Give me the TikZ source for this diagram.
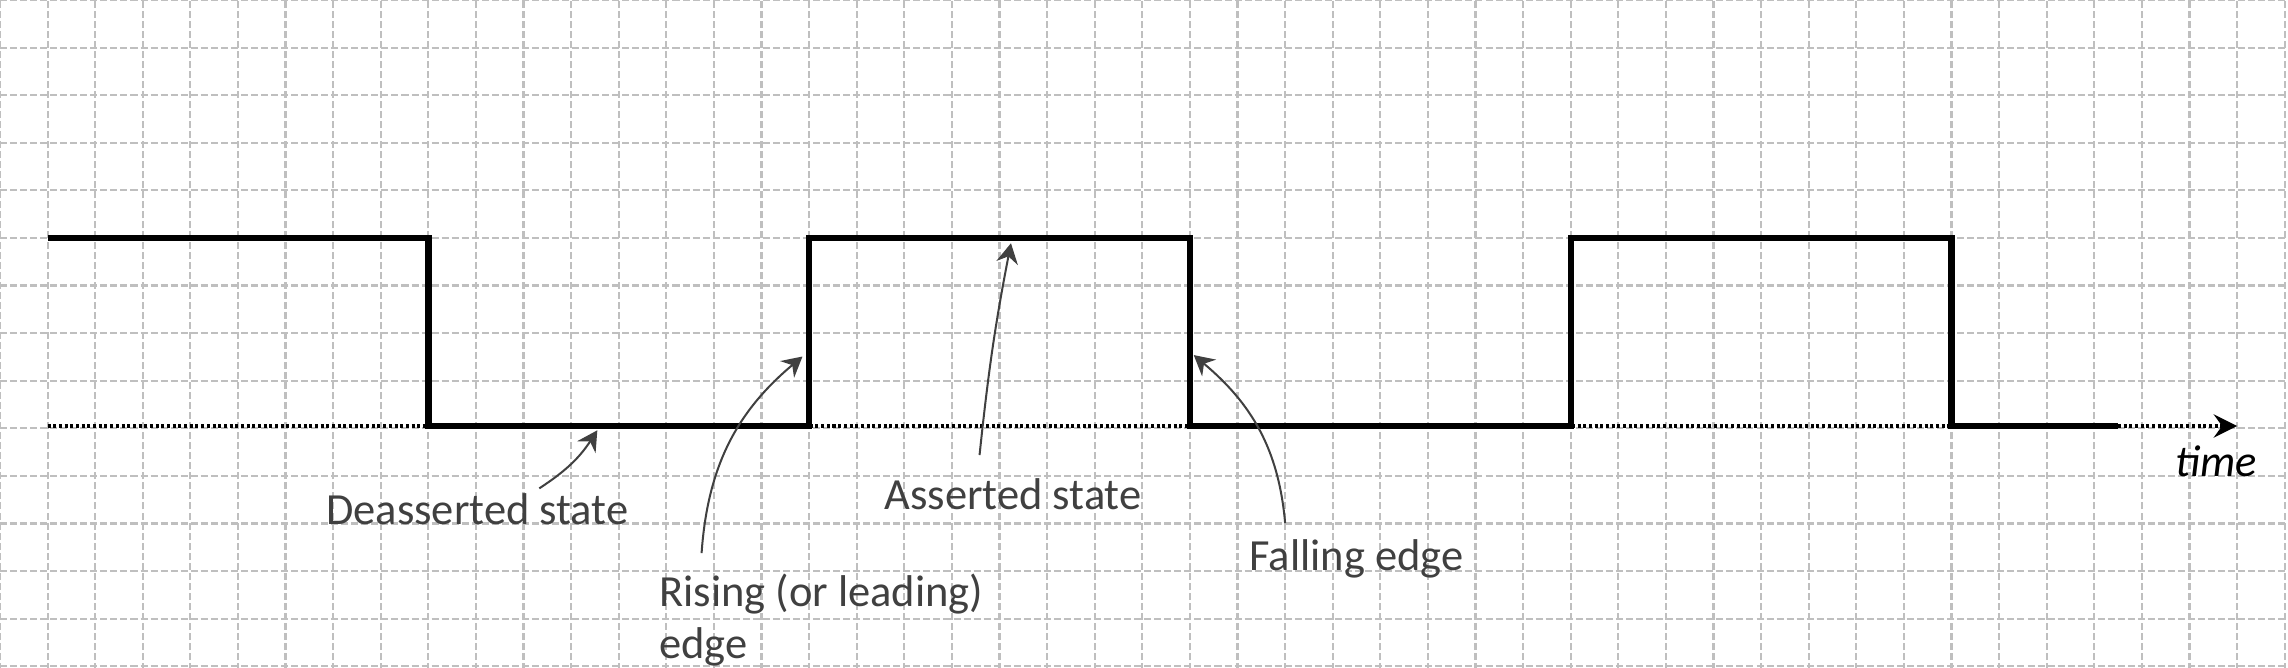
\documentclass[tikz,border=0pt]{standalone}
\usepackage{fontspec}
\setmainfont{Carlito}
\usetikzlibrary{arrows.meta}
\definecolor{gridgray}{HTML}{BFBFBF}
\definecolor{textgray}{HTML}{404040}

\begin{document}
\begin{tikzpicture}[scale=0.5,
		gridline/.style={gridgray, line width=0.65pt, dash pattern=on 2.1pt off 0.9pt},
		signal/.style={black, line width=1.9pt},
		axisline/.style={black, line width=0.9pt, dash pattern=on 0.9pt off 0.8pt, -{Stealth[length=7pt,width=7pt,inset=2.5pt]}},
		note/.style={textgray, font=\fontsize{13.3}{15.6}\selectfont, inner sep=0pt, anchor=base west, align=left},
		pointer/.style={textgray, line width=0.6pt, -{Stealth[length=6pt,width=6.5pt,inset=2pt]}}]
			\useasboundingbox (0,-0.034) rectangle (48.07,14);

			% Grid
			\draw[gridline] (0,-0.5) grid (48.5,14);

			% Time axis
			\draw[axisline] (1,5.05) -- (47,5.05);

			% Signal
			\draw[signal] (1,9) -- (9,9) -- (9,5.05) -- (17,5.05) -- (17,9) -- (25,9) -- (25,5.05)
				-- (33,5.05) -- (33,9) -- (41,9) -- (41,5.05) -- (44.5,5.05);

			% Labels
			\node[note] (deass) at (6.84,2.99) {Deasserted state};
			\node[note] (rise) at (13.84,0.17) {Rising (or leading)\\edge};
			\node[note] (ass) at (18.57,3.29) {Asserted state};
			\node[note] (fall) at (26.24,2.01) {Falling edge};
			\node[note, black, font=\fontsize{13.3}{15.6}\selectfont\itshape] (timelbl) at (45.7,3.99) {time};

			% Pointers
			\coordinate (deass tail) at (11.33,3.74);
			\coordinate (deass tip) at (12.55,4.96);
			\coordinate (rise tail) at (14.74,2.38);
			\coordinate (rise tip) at (16.86,6.51);
			\coordinate (ass tail) at (20.58,4.44);
			\coordinate (ass tip) at (21.24,8.89);
			\coordinate (fall tail) at (27.0,3.01);
			\coordinate (fall tip) at (25.08,6.54);
			\draw[pointer] (deass tail) to[out=33, in=237] (deass tip);
			\draw[pointer] (rise tail) to[out=86, in=220] (rise tip);
			\draw[pointer] (ass tail) to[out=84, in=259] (ass tip);
			\draw[pointer] (fall tail) to[out=95, in=-40] (fall tip);
		\end{tikzpicture}
\end{document}
